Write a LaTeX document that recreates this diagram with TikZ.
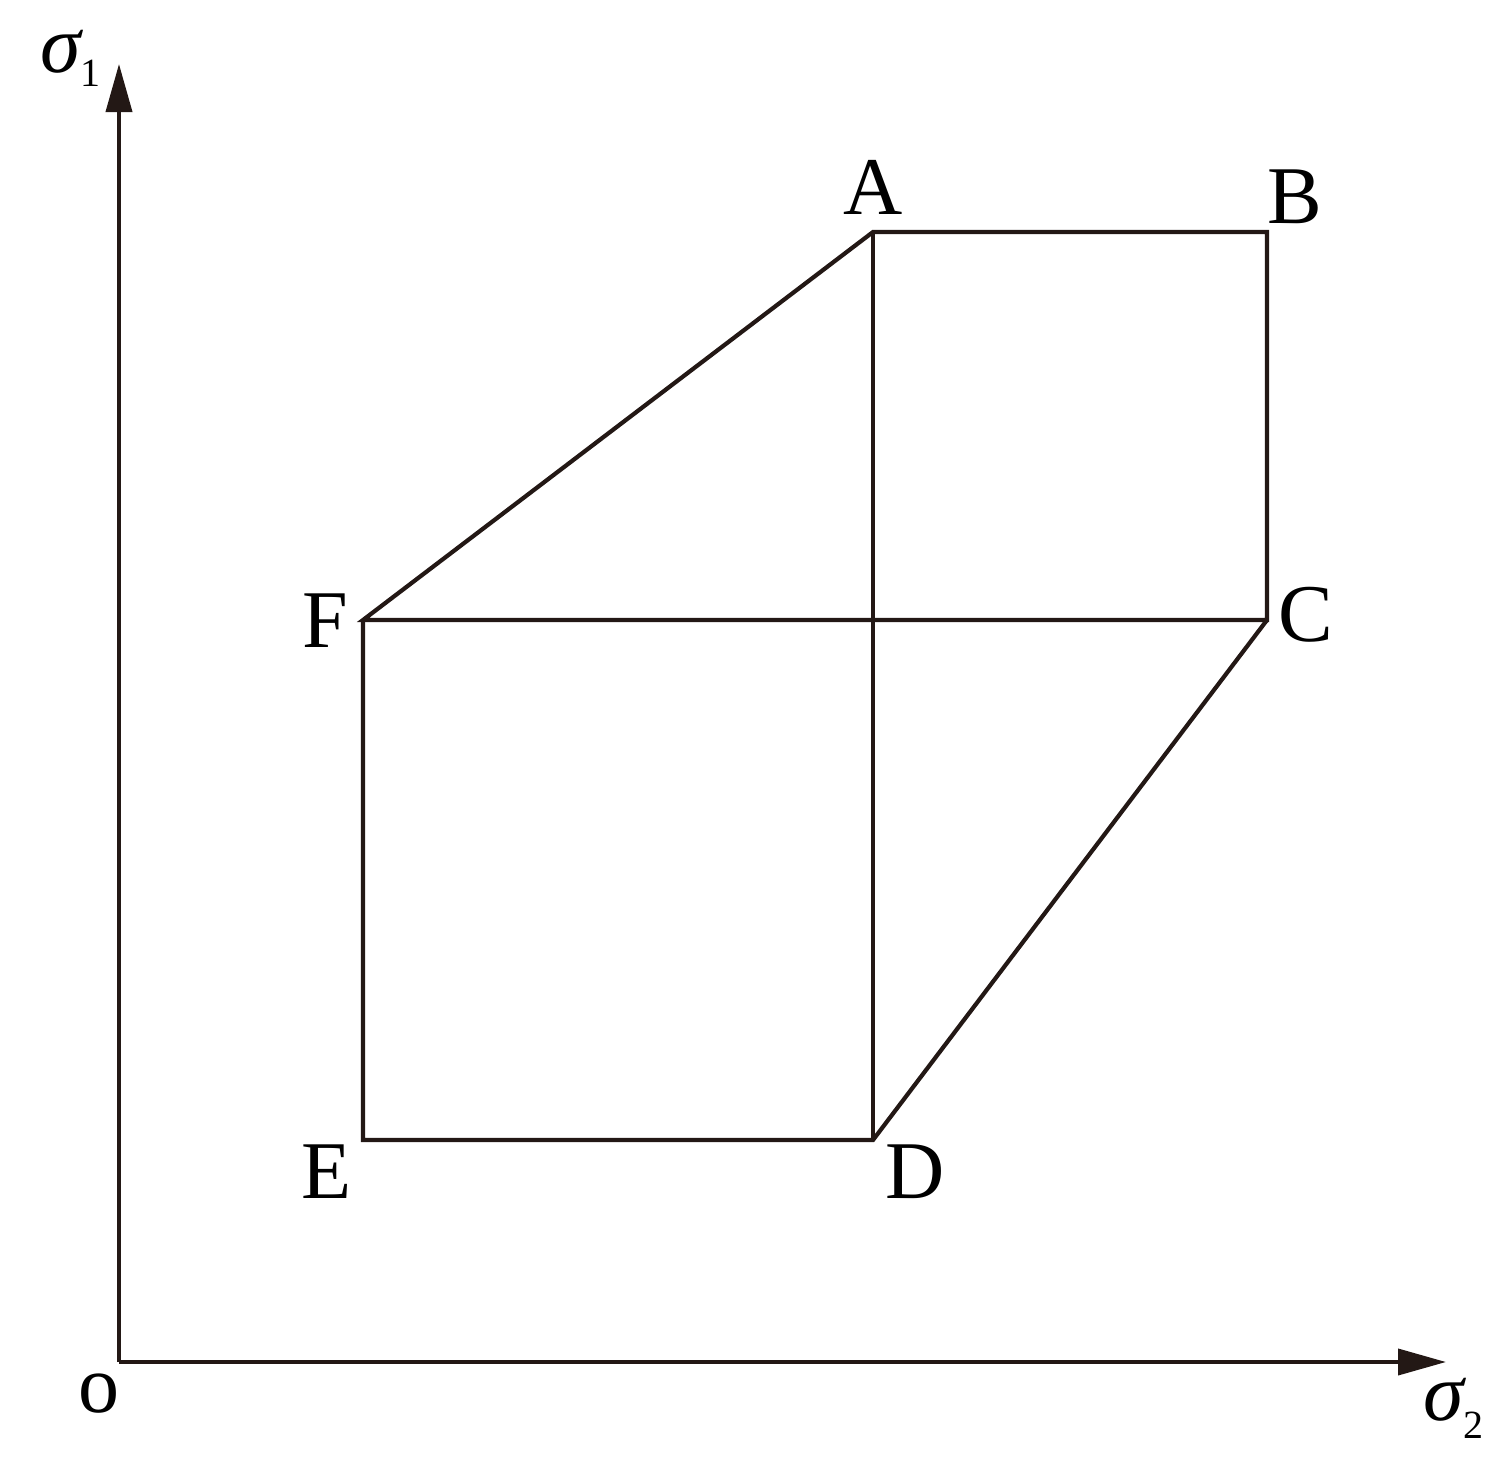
\documentclass[tikz,border=0pt]{standalone}
\usepackage{fontspec}
\setmainfont{Liberation Serif}
\usetikzlibrary{arrows.meta}
\definecolor{ink}{HTML}{231815}
\begin{document}
\begin{tikzpicture}[x=1pt,y=-1pt,
  edge/.style={draw=ink,line width=4.2pt,line join=miter},
  axis/.style={draw=ink,line width=3.8pt,-{Triangle[length=48pt,width=26pt]}},
  lbl/.style={inner sep=0pt,text=black,font=\fontsize{82}{96}\selectfont},
  sig/.style={inner sep=0pt,anchor=base west,text=black,font=\fontsize{82}{96}\selectfont}]
\useasboundingbox (0,0) rectangle (1510,1472);
% points
\coordinate (O) at (119,1362);
\coordinate (Ytip) at (119,64);
\coordinate (Xtip) at (1446,1362);
\coordinate (A) at (873,232);
\coordinate (B) at (1267,232);
\coordinate (C) at (1267,620);
\coordinate (F) at (363,620);
\coordinate (E) at (363,1140);
\coordinate (D) at (873,1140);
% axes
\draw[axis] (O) -- (Ytip);
\draw[axis] (O) -- (Xtip);
% figure
\draw[edge] (A) -- (B) -- (C) -- (F) -- cycle;
\draw[edge] (F) -- (E) -- (D) -- (C);
\draw[edge] (A) -- (D);
% labels
\node[lbl] (lA) at (873,187) {A};
\node[lbl] (lB) at (1295,197) {B};
\node[lbl] (lC) at (1306,615) {C};
\node[lbl] (lF) at (325,621) {F};
\node[lbl] (lE) at (327,1172) {E};
\node[lbl] (lD) at (915,1172) {D};
\node[lbl] (lO) at (99,1394) {o};
\node[sig] (s1) at (40,73) {\itshape σ\raisebox{-14pt}{\upshape\fontsize{40}{48}\selectfont 1}};
\node[sig] (s2) at (1423,1420) {\itshape σ\raisebox{-18pt}{\upshape\fontsize{40}{48}\selectfont 2}};
\end{tikzpicture}
\end{document}
